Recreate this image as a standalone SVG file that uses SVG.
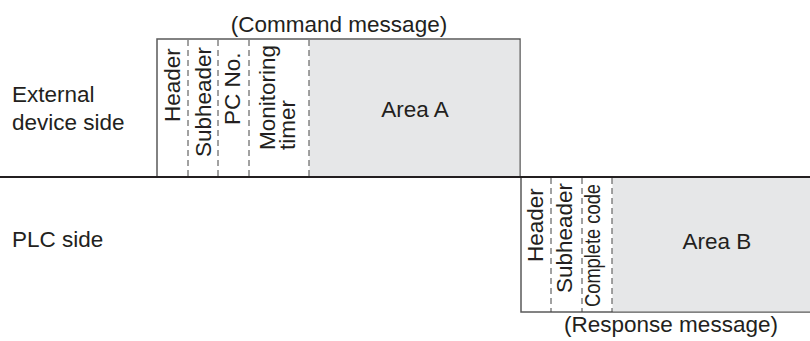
<svg xmlns="http://www.w3.org/2000/svg" width="810" height="341" viewBox="0 0 810 341">
<style>
text{font-family:"Liberation Sans",Arial,sans-serif;font-size:22.5px;fill:#231f20}
.box{fill:#fff;stroke:#5a5a5a;stroke-width:1.5}
.area{fill:#e6e7e8;stroke:none}
.dash{stroke:#444;stroke-width:1;stroke-dasharray:6,4;fill:none}
.mid{text-anchor:middle}
</style>
<rect width="810" height="341" fill="#fff"/>
<g id="labels">
<text x="12" y="102">External</text>
<text x="12" y="130">device side</text>
<text x="12" y="247">PLC side</text>
</g>
<g id="command">
<text class="mid" x="339" y="32">(Command message)</text>
<rect class="box" x="157" y="39" width="363" height="138"/>
<rect class="area" x="309.5" y="40" width="209.8" height="136.5"/>
<line class="dash" x1="188" y1="40" x2="188" y2="177"/>
<line class="dash" x1="218" y1="40" x2="218" y2="177"/>
<line class="dash" x1="249" y1="40" x2="249" y2="177"/>
<line class="dash" x1="309" y1="40" x2="309" y2="177"/>
<text transform="translate(180,122) rotate(-90)">Header</text>
<text transform="translate(211,157) rotate(-90)">Subheader</text>
<text transform="translate(240,125) rotate(-90)">PC No.</text>
<text transform="translate(275,150) rotate(-90)">Monitoring</text>
<text transform="translate(295,150) rotate(-90)">timer</text>
<text class="mid" x="415" y="117">Area A</text>
</g>
<g id="response">
<rect class="box" x="521" y="177" width="300" height="135"/>
<rect class="area" x="612.5" y="178" width="198" height="133.3"/>
<line class="dash" x1="551" y1="178" x2="551" y2="312"/>
<line class="dash" x1="582" y1="178" x2="582" y2="312"/>
<line class="dash" x1="612" y1="178" x2="612" y2="312"/>
<text transform="translate(543,262) rotate(-90)">Header</text>
<text transform="translate(572,293) rotate(-90)">Subheader</text>
<text transform="translate(600,307) rotate(-90)" textLength="123" lengthAdjust="spacingAndGlyphs">Complete code</text>
<text class="mid" x="717" y="249">Area B</text>
<text class="mid" x="671" y="332">(Response message)</text>
</g>
<g id="connectors">
<line x1="0" y1="177" x2="810" y2="177" stroke="#231f20" stroke-width="2"/>
</g>
</svg>
